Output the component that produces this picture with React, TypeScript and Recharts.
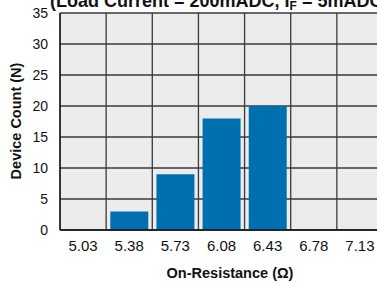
import * as React from 'react';
import { BarChart, Bar, XAxis, YAxis, CartesianGrid, Label } from 'recharts';

// Histogram of on-resistance
const resistance = ['5.03', '5.38', '5.73', '6.08', '6.43', '6.78', '7.13'];
const deviceCount = [0, 3, 9, 18, 20, 0, 0];
const countTicks = [0, 5, 10, 15, 20, 25, 30, 35];

const FONT = "'Liberation Sans', Arial, Helvetica, sans-serif";
const BLUE = '#006fb0';
const GRID = '#3a3a3a';

const data = resistance.map((r, i) => ({ resistance: r, count: deviceCount[i] }));

// vertical grid lines go on category boundaries, not centers
function boundaryLines({ offset }: { offset: { left: number; width: number } }) {
  const step = offset.width / resistance.length;
  return Array.from({ length: resistance.length + 1 }, (_, i) => offset.left + i * step);
}

export default function App() {
  return (
    <div
      style={{
        position: 'fixed',
        left: 0,
        top: 0,
        width: 377,
        height: 283,
        overflow: 'hidden',
        background: '#fff',
        fontFamily: FONT,
      }}
    >
      <BarChart
        width={383}
        height={283}
        data={data}
        margin={{ top: 13, right: 0, left: 0, bottom: 0 }}
        barCategoryGap="9%"
      >
        <CartesianGrid
          fill="#ececec"
          stroke={GRID}
          strokeWidth={1.3}
          verticalCoordinatesGenerator={boundaryLines as any}
        />
        <XAxis
          dataKey="resistance"
          height={53}
          tickLine={false}
          tickSize={0}
          tickMargin={10}
          axisLine={{ stroke: '#111', strokeWidth: 1.5 }}
          tick={{ fill: '#111', fontSize: 15, fontFamily: FONT }}
          interval={0}
        >
          <Label
            content={() => (
              <text
                x={230}
                y={278}
                textAnchor="middle"
                fontSize={14.5}
                fontWeight="bold"
                fontFamily={FONT}
                fill="#111"
              >
                On-Resistance (Ω)
              </text>
            )}
          />
        </XAxis>
        <YAxis
          width={60}
          domain={[0, 35]}
          ticks={countTicks}
          tickLine={false}
          tickSize={4}
          tickMargin={8}
          axisLine={{ stroke: '#111', strokeWidth: 1.3 }}
          tick={{ fill: '#111', fontSize: 14, fontFamily: FONT }}
        >
          <Label
            content={() => (
              <text
                transform="translate(21,121) rotate(-90)"
                textAnchor="middle"
                fontSize={14.5}
                fontWeight="bold"
                fontFamily={FONT}
                fill="#111"
              >
                Device Count (N)
              </text>
            )}
          />
        </YAxis>
        <Bar dataKey="count" fill={BLUE} isAnimationActive={false} />
      </BarChart>
      <svg width={377} height={20} style={{ position: 'absolute', left: 0, top: 0 }}>
        <text x={50} y={7} fontSize={18} fontWeight="bold" fontFamily={FONT} fill="#111">
          (Load Current = 200mADC, I<tspan fontSize={12} dy={3}>F</tspan>
          <tspan dy={-3}> = 5mADC)</tspan>
        </text>
      </svg>
    </div>
  );
}
